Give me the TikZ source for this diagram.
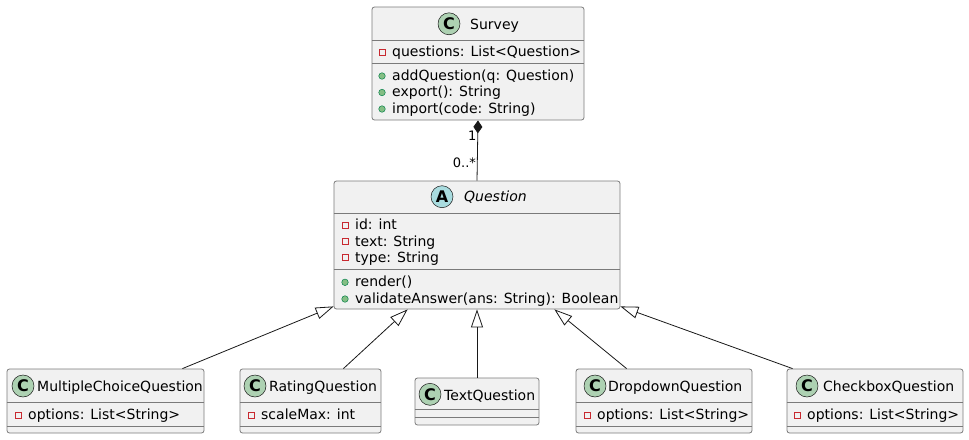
\documentclass[tikz,border=0pt]{standalone}
\usepackage{fontspec}
\setmainfont{DejaVu Sans}
\usetikzlibrary{arrows.meta}

\definecolor{umlfill}{HTML}{F1F1F1}
\definecolor{umlline}{HTML}{181818}
\definecolor{umlborder}{HTML}{7A7A7A}
\definecolor{cbadge}{HTML}{ADD1B2}
\definecolor{abadge}{HTML}{A9DCDF}
\definecolor{privred}{HTML}{C82930}
\definecolor{pubfill}{HTML}{84BE84}
\definecolor{publine}{HTML}{038048}

\tikzset{
  classbox/.style={draw=umlborder, fill=umlfill, line width=0.8pt, rounded corners=2.5pt, inner sep=0pt},
  sepline/.style={draw=umlborder, line width=0.8pt},
  badge/.style={circle, draw=umlline, line width=0.5pt, minimum size=22pt, inner sep=0pt, font=\fontsize{16}{16}\selectfont\bfseries},
  title/.style={anchor=base west, inner sep=0pt},
  member/.style={anchor=base west, inner sep=0pt},
  privmark/.style={draw=privred, line width=0.6pt, minimum size=6pt, inner sep=0pt},
  pubmark/.style={circle, draw=publine, fill=pubfill, line width=0.5pt, minimum size=6.5pt, inner sep=0pt},
  assoc/.style={draw=umlline, line width=0.8pt},
  inherit/.style={assoc, -{Triangle[open, length=18pt, width=12pt]}},
  mult/.style={font=\fontsize{13}{13}\selectfont, inner sep=1pt},
}

% marker, then its text
\newcommand{\umlpriv}[4]{\node[privmark] (#1m) at (#2,#3) {}; \node[member] (#1t) at (#2+10,#3+4.3) {#4};}
\newcommand{\umlpub}[4]{\node[pubmark] (#1m) at (#2,#3) {}; \node[member] (#1t) at (#2+10,#3+4.3) {#4};}

\begin{document}
\begin{tikzpicture}[x=1pt, y=-1pt, font=\fontsize{14}{16}\selectfont]
\useasboundingbox (0,0) rectangle (969,439);

% Survey
\node[classbox, minimum width=212pt, minimum height=113pt] (survey) at (478,63.5) {};
\node[badge, fill=cbadge] (surveyB) at (449,23.8) {C};
\node[title] (surveyT) at (470,29.3) {Survey};
\draw[sepline] (survey.west |- 0,40) -- (survey.east |- 0,40);
\draw[sepline] (survey.west |- 0,63) -- (survey.east |- 0,63);
\umlpriv{sq}{382}{52}{questions: List<Question>}
\umlpub{sadd}{382}{76}{addQuestion(q: Question)}
\umlpub{sexp}{382}{92.5}{export(): String}
\umlpub{simp}{382}{109}{import(code: String)}

% Question
\node[classbox, minimum width=286pt, minimum height=128pt] (question) at (477,245) {};
\node[badge, fill=abadge] (questionB) at (442,196.7) {A};
\node[title] (questionT) at (464,201.5) {\itshape Question};
\draw[sepline] (question.west |- 0,213) -- (question.east |- 0,213);
\draw[sepline] (question.west |- 0,269) -- (question.east |- 0,269);
\umlpriv{qid}{345}{225.5}{id: int}
\umlpriv{qtext}{345}{241.7}{text: String}
\umlpriv{qtype}{345}{257.7}{type: String}
\umlpub{qrend}{345}{282.3}{render()}
\umlpub{qval}{345}{299}{validateAnswer(ans: String): Boolean}

% subclasses
\node[classbox, minimum width=197pt, minimum height=64pt] (mcq) at (105.5,401) {};
\node[badge, fill=cbadge] (mcqB) at (23,386) {C};
\node[title] (mcqT) at (37,391.5) {MultipleChoiceQuestion};
\draw[sepline] (mcq.west |- 0,402) -- (mcq.east |- 0,402);
\draw[sepline] (mcq.west |- 0,426) -- (mcq.east |- 0,426);
\umlpriv{mopt}{18}{415}{options: List<String>}

\node[classbox, minimum width=141pt, minimum height=64pt] (rating) at (310.5,401) {};
\node[badge, fill=cbadge] (ratingB) at (255,386) {C};
\node[title] (ratingT) at (269,391.5) {RatingQuestion};
\draw[sepline] (rating.west |- 0,402) -- (rating.east |- 0,402);
\draw[sepline] (rating.west |- 0,426) -- (rating.east |- 0,426);
\umlpriv{rmax}{251}{415}{scaleMax: int}

\node[classbox, minimum width=124pt, minimum height=47pt] (textq) at (477,401.5) {};
\node[badge, fill=cbadge] (textqB) at (430,394.3) {C};
\node[title] (textqT) at (444,400) {TextQuestion};
\draw[sepline] (textq.west |- 0,409) -- (textq.east |- 0,409);
\draw[sepline] (textq.west |- 0,417) -- (textq.east |- 0,417);

\node[classbox, minimum width=176pt, minimum height=64pt] (dropdown) at (664,401) {};
\node[badge, fill=cbadge] (dropdownB) at (595,386) {C};
\node[title] (dropdownT) at (608,391.5) {DropdownQuestion};
\draw[sepline] (dropdown.west |- 0,402) -- (dropdown.east |- 0,402);
\draw[sepline] (dropdown.west |- 0,426) -- (dropdown.east |- 0,426);
\umlpriv{dopt}{587}{415}{options: List<String>}

\node[classbox, minimum width=176pt, minimum height=64pt] (checkbox) at (875,401) {};
\node[badge, fill=cbadge] (checkboxB) at (807,386) {C};
\node[title] (checkboxT) at (823,391.5) {CheckboxQuestion};
\draw[sepline] (checkbox.west |- 0,402) -- (checkbox.east |- 0,402);
\draw[sepline] (checkbox.west |- 0,426) -- (checkbox.east |- 0,426);
\umlpriv{copt}{797}{415}{options: List<String>}

% relations
\draw[assoc, {Diamond[length=13pt, width=9pt]}-] (survey.south) --
  node[mult, pos=0.26, left] (one) {1}
  node[mult, pos=0.71, left] (many) {0..*} (question.north);
\draw[inherit] ([xshift=-22pt]mcq.north east) -- ([yshift=3pt]question.south west);
\draw[inherit] ([xshift=-38pt]rating.north east) -- ([xshift=74pt]question.south west);
\draw[inherit] (textq.north) -- (question.south);
\draw[inherit] ([xshift=51pt]dropdown.north west) -- ([xshift=-66pt]question.south east);
\draw[inherit] ([xshift=6pt]checkbox.north west) -- ([yshift=3pt]question.south east);
\end{tikzpicture}
\end{document}
